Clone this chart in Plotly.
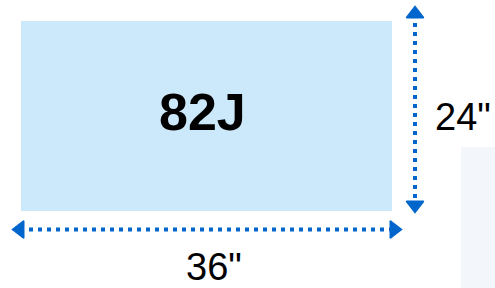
import plotly.graph_objects as go

# ---- data ----
label = ["82J"]
dim_names = ["width", "height"]
dim_values = [36, 24]          # inches
dim_labels = ['36"', '24"']

W, H = 495, 288
# pixel geometry of the drawing (layout)
RX0, RX1 = 21, 392     # rectangle left/right px
RY0, RY1 = 21, 211     # rectangle top/bottom px

w_in, h_in = dim_values
sx = (RX1 - RX0) / w_in
sy = (RY1 - RY0) / h_in
x_range = [-RX0 / sx, (W - RX0) / sx]
y_range = [-(H - RY1) / sy, h_in + RY0 / sy]

def px2x(px):
    return (px - RX0) / sx

def px2y(py):
    return h_in + (RY0 - py) / sy

blue = "#0066cc"
fill = "#cce8fb"

fig = go.Figure()

# rectangle from data
fig.add_trace(go.Scatter(
    x=[0, w_in, w_in, 0, 0], y=[0, 0, h_in, h_in, 0],
    fill="toself", fillcolor=fill, mode="lines",
    line=dict(width=0, color=fill), hoverinfo="skip", showlegend=False))

# vertical dimension arrow
vx = px2x(415)
fig.add_trace(go.Scatter(
    x=[vx, vx], y=[px2y(14), px2y(205)], mode="lines",
    line=dict(color=blue, width=4, dash="4px,5px"),
    hoverinfo="skip", showlegend=False))
fig.add_trace(go.Scatter(
    x=[vx, vx], y=[px2y(14), px2y(205)], mode="markers",
    marker=dict(symbol=["triangle-up", "triangle-down"], size=15, color=blue,
                line=dict(color=blue, width=1.5)),
    hoverinfo="skip", showlegend=False))

# horizontal dimension arrow
hy = px2y(229.5)
fig.add_trace(go.Scatter(
    x=[px2x(20), px2x(394)], y=[hy, hy], mode="lines",
    line=dict(color=blue, width=4, dash="4px,5px"),
    hoverinfo="skip", showlegend=False))
fig.add_trace(go.Scatter(
    x=[px2x(20), px2x(394)], y=[hy, hy], mode="markers",
    marker=dict(symbol=["triangle-left", "triangle-right"], size=15, color=blue,
                line=dict(color=blue, width=1.5)),
    hoverinfo="skip", showlegend=False))

font = "Liberation Sans, Arial, sans-serif"
annotations = [
    dict(x=w_in / 2, y=h_in / 2, text="<b>" + label[0] + "</b>", showarrow=False,
         font=dict(family=font, size=52, color="black"), xref="x", yref="y",
         xshift=-4, yshift=4),
    dict(x=px2x(463), y=px2y(117), text=dim_labels[1], showarrow=False,
         font=dict(family=font, size=38, color="black"), xref="x", yref="y"),
    dict(x=px2x(214), y=px2y(267), text=dim_labels[0], showarrow=False,
         font=dict(family=font, size=38, color="black"), xref="x", yref="y"),
]

fig.update_layout(
    width=W, height=H, margin=dict(l=0, r=0, t=0, b=0),
    paper_bgcolor="white", plot_bgcolor="white",
    xaxis=dict(range=x_range, visible=False, fixedrange=True),
    yaxis=dict(range=y_range, visible=False, fixedrange=True),
    annotations=annotations,
    shapes=[dict(type="rect", xref="paper", yref="paper",
                 x0=461 / W, x1=1, y0=0, y1=1 - 147 / H,
                 fillcolor="#f3f6fb", line=dict(width=0), layer="below")],
)

fig.write_html("out.html", config={"displayModeBar": False},
               post_script="document.body.style.margin='0';document.body.style.overflow='hidden';")
